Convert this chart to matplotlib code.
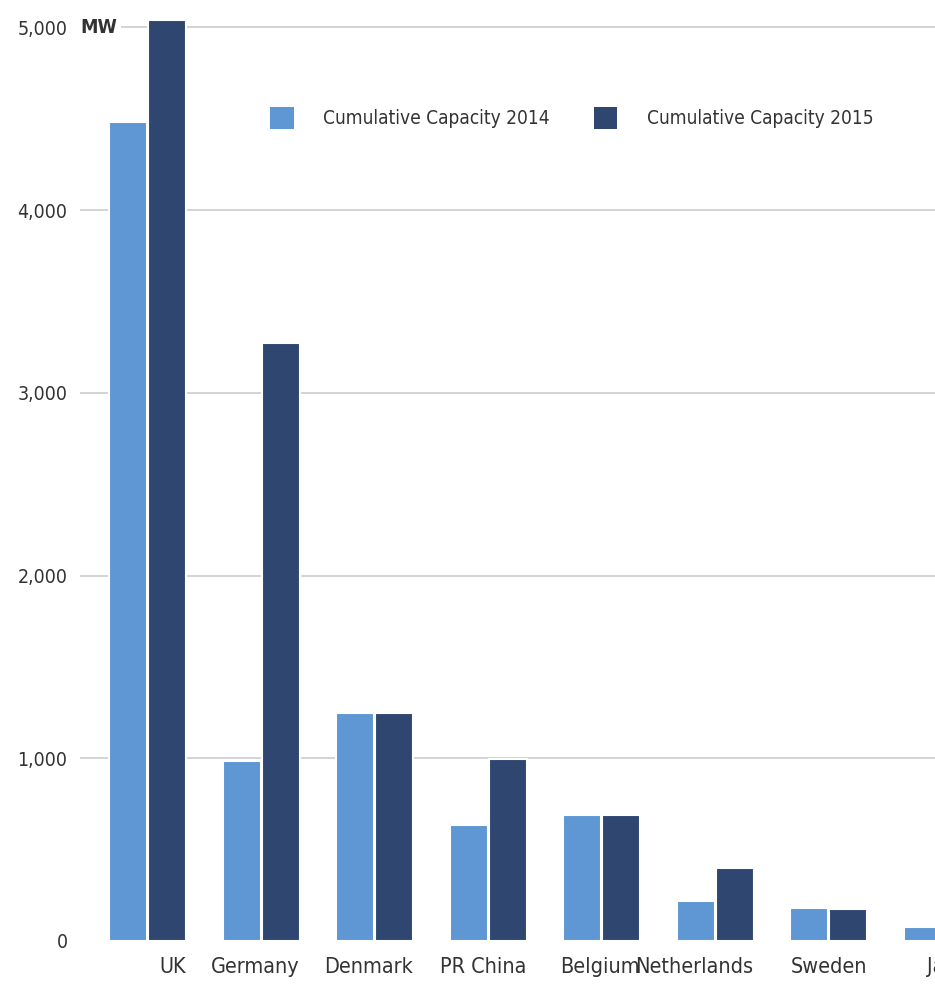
import matplotlib
matplotlib.use("Agg")
import matplotlib.pyplot as plt
import numpy as np
from matplotlib.patches import Patch
import matplotlib.transforms as mtransforms

plt.rcParams['font.family'] = ['DejaVu Sans']
plt.rcParams['font.stretch'] = 'condensed'

countries = ["UK", "Germany", "Denmark", "PR China", "Belgium", "Netherlands", "Sweden", "Japan"]
capacity_2014 = [4483, 985, 1248, 635, 690, 219, 181, 77]
capacity_2015 = [5040, 3273, 1248, 996, 690, 400, 175, 80]
y_ticks = [0, 1000, 2000, 3000, 4000, 5000]
y_tick_labels = ["0", "1,000", "2,000", "3,000", "4,000", "5,000"]
series_names = ["Cumulative Capacity 2014", "Cumulative Capacity 2015"]

light = "#5f97d4"
dark = "#2f4770"
text_col = "#333333"
grid_col = "#cccccc"

W, H = 935, 985
fig = plt.figure(figsize=(W / 100, H / 100), dpi=100)
ax = fig.add_axes([80 / W, (H - 941) / H, (W - 80) / W, 941 / H])

x = np.arange(len(countries))
off = 0.172
bw = 0.335
ax.bar(x - off, capacity_2014, width=bw, color=light, edgecolor="white", linewidth=1.5, zorder=3)
ax.bar(x + off, capacity_2015, width=bw, color=dark, edgecolor="white", linewidth=1.5, zorder=3)

for y in y_ticks[1:]:
    ax.axhline(y, color=grid_col, lw=1.2, zorder=1)

for s in ax.spines.values():
    s.set_visible(False)

ax.set_yticks(y_ticks)
ax.set_yticklabels(y_tick_labels, fontsize=14, color=text_col)
ax.tick_params(axis="y", length=0, pad=9)

# Country names right-aligned to the right edge of each group
ax.set_xticks([])
label_tf = mtransforms.blended_transform_factory(ax.transData, ax.transAxes)
for xi, name in zip(x, countries):
    ax.text(xi + off + bw / 2, 0, name, transform=label_tf, fontsize=15.5, color=text_col,
            ha="right", va="top", clip_on=False)
# shift the labels down in screen space
for t in ax.texts:
    t.set_transform(t.get_transform() + mtransforms.ScaledTranslation(0, -16 / 100, fig.dpi_scale_trans))

ax.set_xlim(-0.595, 6.938)
ax.set_ylim(0, 5150)

ax.text(-0.59, 5000, "MW", fontsize=14, fontweight="bold", color=text_col,
        va="center", ha="left", zorder=4,
        bbox=dict(boxstyle="square,pad=0.2", fc="white", ec="none"))

handles = [Patch(facecolor=light, edgecolor="none"), Patch(facecolor=dark, edgecolor="none")]
leg = ax.legend(handles, series_names, loc="center left", bbox_to_anchor=(190 / (W - 80), 1 - 118 / 941),
                ncol=2, frameon=False, fontsize=13.7, handlelength=1.25, handleheight=1.45,
                handletextpad=1.55, columnspacing=2.3, borderpad=0, borderaxespad=0)
for t in leg.get_texts():
    t.set_color(text_col)

fig.savefig("out.png", dpi=100, facecolor="white")
